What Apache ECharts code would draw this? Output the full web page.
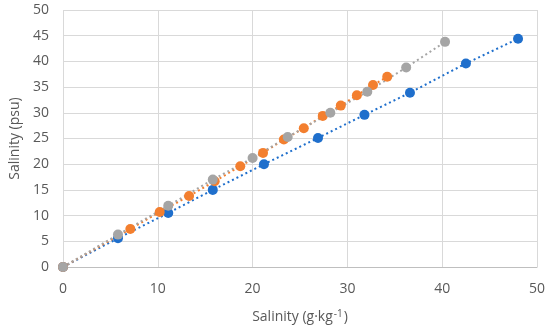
<!DOCTYPE html>
<html><head><meta charset="utf-8">
<script src="https://cdn.jsdelivr.net/npm/echarts@6/dist/echarts.min.js"></script>
<style>html,body{margin:0;padding:0;background:#fff}#c{width:550px;height:330px}</style>
</head><body><div id="c"></div>
<script>
const blueX = [0, 5.8, 11.1, 15.8, 21.2, 26.9, 31.8, 36.6, 42.5, 48.0];
const blueY = [0, 5.6, 10.5, 15.0, 20.0, 25.1, 29.6, 33.9, 39.6, 44.4];
const orangeX = [0, 7.1, 10.2, 13.3, 16.0, 18.7, 21.1, 23.3, 25.4, 27.4, 29.3, 31.0, 32.7, 34.2];
const orangeY = [0, 7.4, 10.7, 13.8, 16.7, 19.6, 22.2, 24.8, 27.0, 29.4, 31.4, 33.4, 35.4, 37.0];
const grayX = [0, 5.8, 11.1, 15.8, 20.0, 23.7, 28.2, 32.1, 36.2, 40.3];
const grayY = [0, 6.3, 11.9, 17.0, 21.2, 25.3, 30.0, 34.1, 38.8, 43.8];
const xTitle = 'Salinity (g·kg{sup|-1})';
const yTitle = 'Salinity (psu)';

const pair = (xs, ys) => xs.map((x, i) => [x, ys[i]]);
const font = '"Open Sans", "Noto Sans", sans-serif';
const mk = (name, xs, ys, color) => ({
  name, type: 'line', data: pair(xs, ys), symbol: 'circle', symbolSize: 10,
  itemStyle: { color }, lineStyle: { color, type: [2, 3], width: 2 },
  animation: false
});
const chart = echarts.init(document.getElementById('c'), null, { renderer: 'canvas' });
chart.setOption({
  grid: { left: 63, right: 13, top: 10, bottom: 63 },
  xAxis: {
    type: 'value', min: 0, max: 50, interval: 10,
    name: xTitle, nameLocation: 'middle', nameGap: 42,
    nameTextStyle: { fontFamily: font, fontSize: 14, color: '#595959',
      rich: { sup: { fontFamily: font, fontSize: 10, color: '#595959', padding: [0, 1, 7, 1] } } },
    axisLine: { show: true, lineStyle: { color: '#bfbfbf' } },
    axisTick: { show: false },
    axisLabel: { fontFamily: font, fontSize: 14, color: '#595959', margin: 15 },
    splitLine: { show: true, lineStyle: { color: '#d9d9d9' } }
  },
  yAxis: {
    type: 'value', min: 0, max: 50, interval: 5,
    name: yTitle, nameLocation: 'middle', nameGap: 38,
    nameTextStyle: { fontFamily: font, fontSize: 14, color: '#595959' },
    axisLine: { show: false }, axisTick: { show: false },
    axisLabel: { fontFamily: font, fontSize: 14, color: '#595959', margin: 14 },
    splitLine: { show: true, lineStyle: { color: '#d9d9d9' } }
  },
  series: [
    mk('A', blueX, blueY, '#1f6fcc'),
    mk('B', orangeX, orangeY, '#f37f2f'),
    mk('C', grayX, grayY, '#a5a5a5')
  ]
});
</script></body></html>
